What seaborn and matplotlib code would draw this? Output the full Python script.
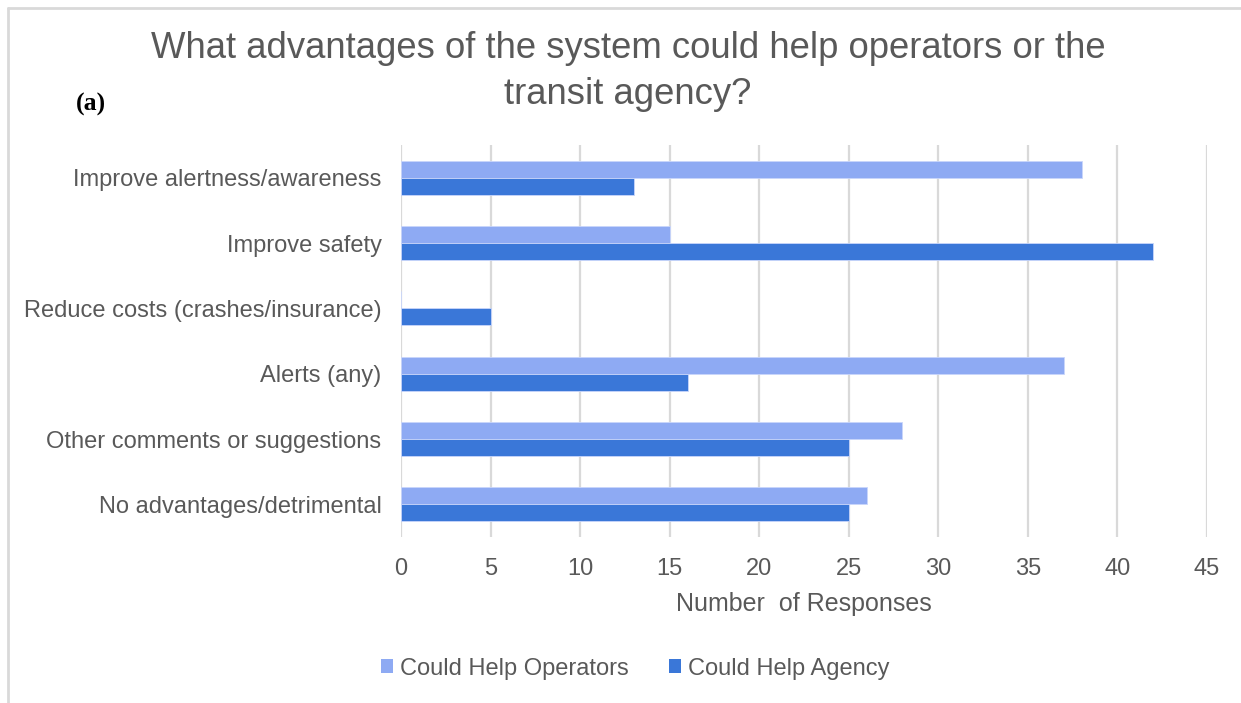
import matplotlib
matplotlib.use("Agg")
import matplotlib.pyplot as plt
from matplotlib.lines import Line2D
from matplotlib.patches import Patch
import seaborn as sns
import pandas as pd

categories = [
    "Improve alertness/awareness",
    "Improve safety",
    "Reduce costs (crashes/insurance)",
    "Alerts (any)",
    "Other comments or suggestions",
    "No advantages/detrimental",
]
series_names = ["Could Help Operators", "Could Help Agency"]
operators = [38, 15, 0, 37, 28, 26]
agency = [13, 42, 5, 16, 25, 25]
x_ticks = [0, 5, 10, 15, 20, 25, 30, 35, 40, 45]

colors = {"Could Help Operators": "#8eaaf3", "Could Help Agency": "#3a77d8"}
text_gray = "#595959"

df = pd.DataFrame({
    "category": categories * 2,
    "series": [series_names[0]] * len(categories) + [series_names[1]] * len(categories),
    "value": operators + agency,
})

sns.set_style("white")
plt.rcParams["font.family"] = ["Liberation Sans", "DejaVu Sans"]

fig = plt.figure(figsize=(12.41, 7.03), dpi=100)
ax = fig.add_axes([0.3231, 0.2361, 0.6495, 0.5576])

sns.barplot(
    data=df, x="value", y="category", hue="series",
    order=categories, hue_order=series_names, palette=colors,
    orient="h", width=0.52, saturation=1, ax=ax, legend=False,
    linewidth=0.6, edgecolor="#c9d6fb",
)

ax.set_xlim(0, 45)
ax.set_ylim(5.5, -0.5)
ax.set_xticks(x_ticks)
ax.set_xticklabels([str(t) for t in x_ticks])
ax.grid(axis="x", color="#d9d9d9", linewidth=1.6)
ax.grid(axis="y", visible=False)
ax.set_axisbelow(True)
for s in ax.spines.values():
    s.set_visible(False)
ax.tick_params(axis="both", length=0, labelsize=17, colors=text_gray)
ax.tick_params(axis="y", pad=14)
ax.tick_params(axis="x", pad=15)
ax.set_ylabel("")
ax.set_xlabel("Number  of Responses", fontsize=18, color=text_gray, labelpad=9)

fig.text(0.506, 0.898, "What advantages of the system could help operators or the\ntransit agency?",
         ha="center", va="center", fontsize=26.3, color=text_gray, linespacing=1.42)
fig.text(0.061, 0.851, "(a)", fontsize=18.5, fontweight="bold",
         family=["Liberation Serif", "DejaVu Serif"], color="black", va="center")

handles = [Patch(facecolor=colors[n], edgecolor="none", label=n) for n in series_names]
fig.legend(handles=handles, loc="center", bbox_to_anchor=(0.512, 0.049), ncol=2,
           frameon=False, fontsize=17, handlelength=0.5, handleheight=0.5,
           handletextpad=0.3, columnspacing=1.7, labelcolor=text_gray)

# light frame along the top and left edges
fig.add_artist(Line2D([8 / 1241, 1.0], [1 - 8 / 703, 1 - 8 / 703], transform=fig.transFigure,
                      color="#d9d9d9", linewidth=2))
fig.add_artist(Line2D([8 / 1241, 8 / 1241], [0.0, 1 - 8 / 703], transform=fig.transFigure,
                      color="#d9d9d9", linewidth=2))

fig.savefig("out.png", dpi=100, facecolor="white")
